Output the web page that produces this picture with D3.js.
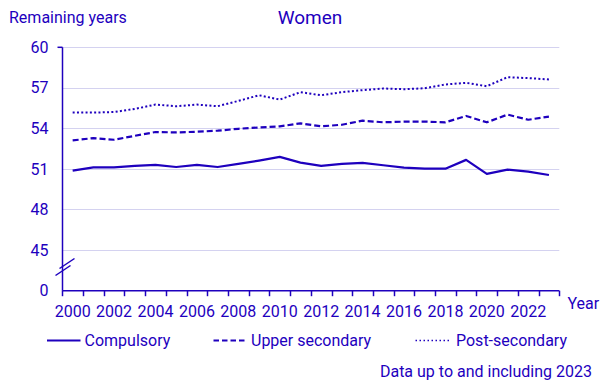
<!DOCTYPE html>
<html>
<head>
<meta charset="utf-8">
<script src="https://cdn.jsdelivr.net/npm/d3@7/dist/d3.min.js"></script>
<style>
  html, body { margin: 0; padding: 0; background: #fff; }
  svg { display: block; font-family: Roboto, "Noto Sans", sans-serif; }
</style>
</head>
<body>
<svg id="chart" width="606" height="383"></svg>
<script>
const years = d3.range(2000, 2024);
const yTickValues = [0, 45, 48, 51, 54, 57, 60];
const xLabelYears = [2000, 2002, 2004, 2006, 2008, 2010, 2012, 2014, 2016, 2018, 2020, 2022];
const compulsory = [50.88, 51.12, 51.12, 51.22, 51.3, 51.14, 51.3, 51.14, 51.37, 51.62, 51.89, 51.47, 51.22, 51.37, 51.45, 51.27, 51.1, 51.02, 51.02, 51.67, 50.63, 50.95, 50.8, 50.55];
const upperSecondary = [53.11, 53.28, 53.16, 53.45, 53.73, 53.7, 53.75, 53.83, 53.97, 54.07, 54.15, 54.37, 54.15, 54.27, 54.57, 54.45, 54.5, 54.5, 54.45, 54.92, 54.45, 55.02, 54.64, 54.87];
const postSecondary = [55.17, 55.17, 55.21, 55.44, 55.76, 55.64, 55.76, 55.64, 56.03, 56.45, 56.13, 56.68, 56.45, 56.68, 56.83, 56.95, 56.9, 56.97, 57.25, 57.37, 57.12, 57.79, 57.72, 57.62];
const seriesNames = ["Compulsory", "Upper secondary", "Post-secondary"];

const C = "#1E00BE";
const GRID = "#D4D2F0";
const svg = d3.select("#chart");

const x = d3.scaleBand().domain(years).range([62.3, 559.3]).padding(0);
const y = d3.scaleLinear().domain([0, 45, 60]).range([290.7, 250, 47.3]);

// gridlines
svg.append("g").selectAll("line").data(yTickValues.filter(v => v > 0)).join("line")
  .attr("x1", 62.3).attr("x2", 559.3)
  .attr("y1", d => Math.round(y(d)) + 0.5).attr("y2", d => Math.round(y(d)) + 0.5)
  .attr("stroke", GRID).attr("stroke-width", 1);

// y axis
const yAxis = d3.axisLeft(y).tickValues(yTickValues).tickSize(0).tickPadding(14);
const gy = svg.append("g").attr("transform", "translate(62.5,0)").call(yAxis);
gy.select(".domain").remove();
gy.selectAll("text").attr("fill", C).style("font-size", "16px").style("font-family", "Roboto");
svg.append("line").attr("x1", 62.5).attr("x2", 62.5).attr("y1", y(60)).attr("y2", y(0))
  .attr("stroke", C).attr("stroke-width", 1.5);
svg.append("line").attr("x1", 57.5).attr("x2", 62.5).attr("y1", y(60)).attr("y2", y(60))
  .attr("stroke", C).attr("stroke-width", 1.5);

// axis break marks
svg.append("line").attr("x1", 55.5).attr("y1", 275.5).attr("x2", 70.5).attr("y2", 265.5)
  .attr("stroke", C).attr("stroke-width", 1.5);
svg.append("line").attr("x1", 59.5).attr("y1", 268.5).attr("x2", 74.5).attr("y2", 258.5)
  .attr("stroke", C).attr("stroke-width", 1.5);

// x axis
const xBase = y(0);
svg.append("line").attr("x1", 62.3).attr("x2", 559.3).attr("y1", xBase).attr("y2", xBase)
  .attr("stroke", C).attr("stroke-width", 1.5);
const bounds = years.map(yr => x(yr)).concat([x(2023) + x.bandwidth()]);
svg.append("g").selectAll("line").data(bounds).join("line")
  .attr("x1", d => Math.round(d) + 0.5).attr("x2", d => Math.round(d) + 0.5)
  .attr("y1", xBase).attr("y2", xBase + 5.5)
  .attr("stroke", C).attr("stroke-width", 1.5);
svg.append("g").selectAll("text").data(xLabelYears).join("text")
  .attr("x", d => x(d) + x.bandwidth() / 2).attr("y", 316.7)
  .attr("text-anchor", "middle").attr("fill", C).style("font-size", "16px")
  .text(d => d);
svg.append("text").attr("x", 567.5).attr("y", 309).attr("fill", C).style("font-size", "16px").text("Year");

// titles
svg.append("text").attr("x", 9).attr("y", 23).attr("fill", C).style("font-size", "16px").text("Remaining years");
svg.append("text").attr("x", 310).attr("y", 24).attr("text-anchor", "middle").attr("fill", C).style("font-size", "19px").text("Women");

// lines
const styles = [
  { data: compulsory, dash: null, w: 2.2 },
  { data: upperSecondary, dash: "6,3", w: 2.2 },
  { data: postSecondary, dash: "2,2.3", w: 2 }
];
const line = d3.line().x((d, i) => x(years[i]) + x.bandwidth() / 2).y(d => y(d));
styles.forEach(s => {
  svg.append("path").datum(s.data).attr("d", line)
    .attr("fill", "none").attr("stroke", C).attr("stroke-width", s.w)
    .attr("stroke-dasharray", s.dash).attr("stroke-linejoin", "round");
});

// legend
const legendX = [47, 213.5, 415.5];
const legendDash = [null, "5.5,3", "1.5,2.5"];
const legendW = [2.2, 2.2, 1.5];
seriesNames.forEach((name, i) => {
  svg.append("line").attr("x1", legendX[i]).attr("x2", legendX[i] + 33.5)
    .attr("y1", 340.5).attr("y2", 340.5)
    .attr("stroke", C).attr("stroke-width", legendW[i]).attr("stroke-dasharray", legendDash[i]);
  svg.append("text").attr("x", legendX[i] + 37.5 + (i === 2 ? 3 : 0)).attr("y", 346)
    .attr("fill", C).style("font-size", "16px").text(name);
});

svg.append("text").attr("x", 592).attr("y", 376.7).attr("text-anchor", "end").attr("fill", C)
  .style("font-size", "16px").text("Data up to and including 2023");
</script>
</body>
</html>
